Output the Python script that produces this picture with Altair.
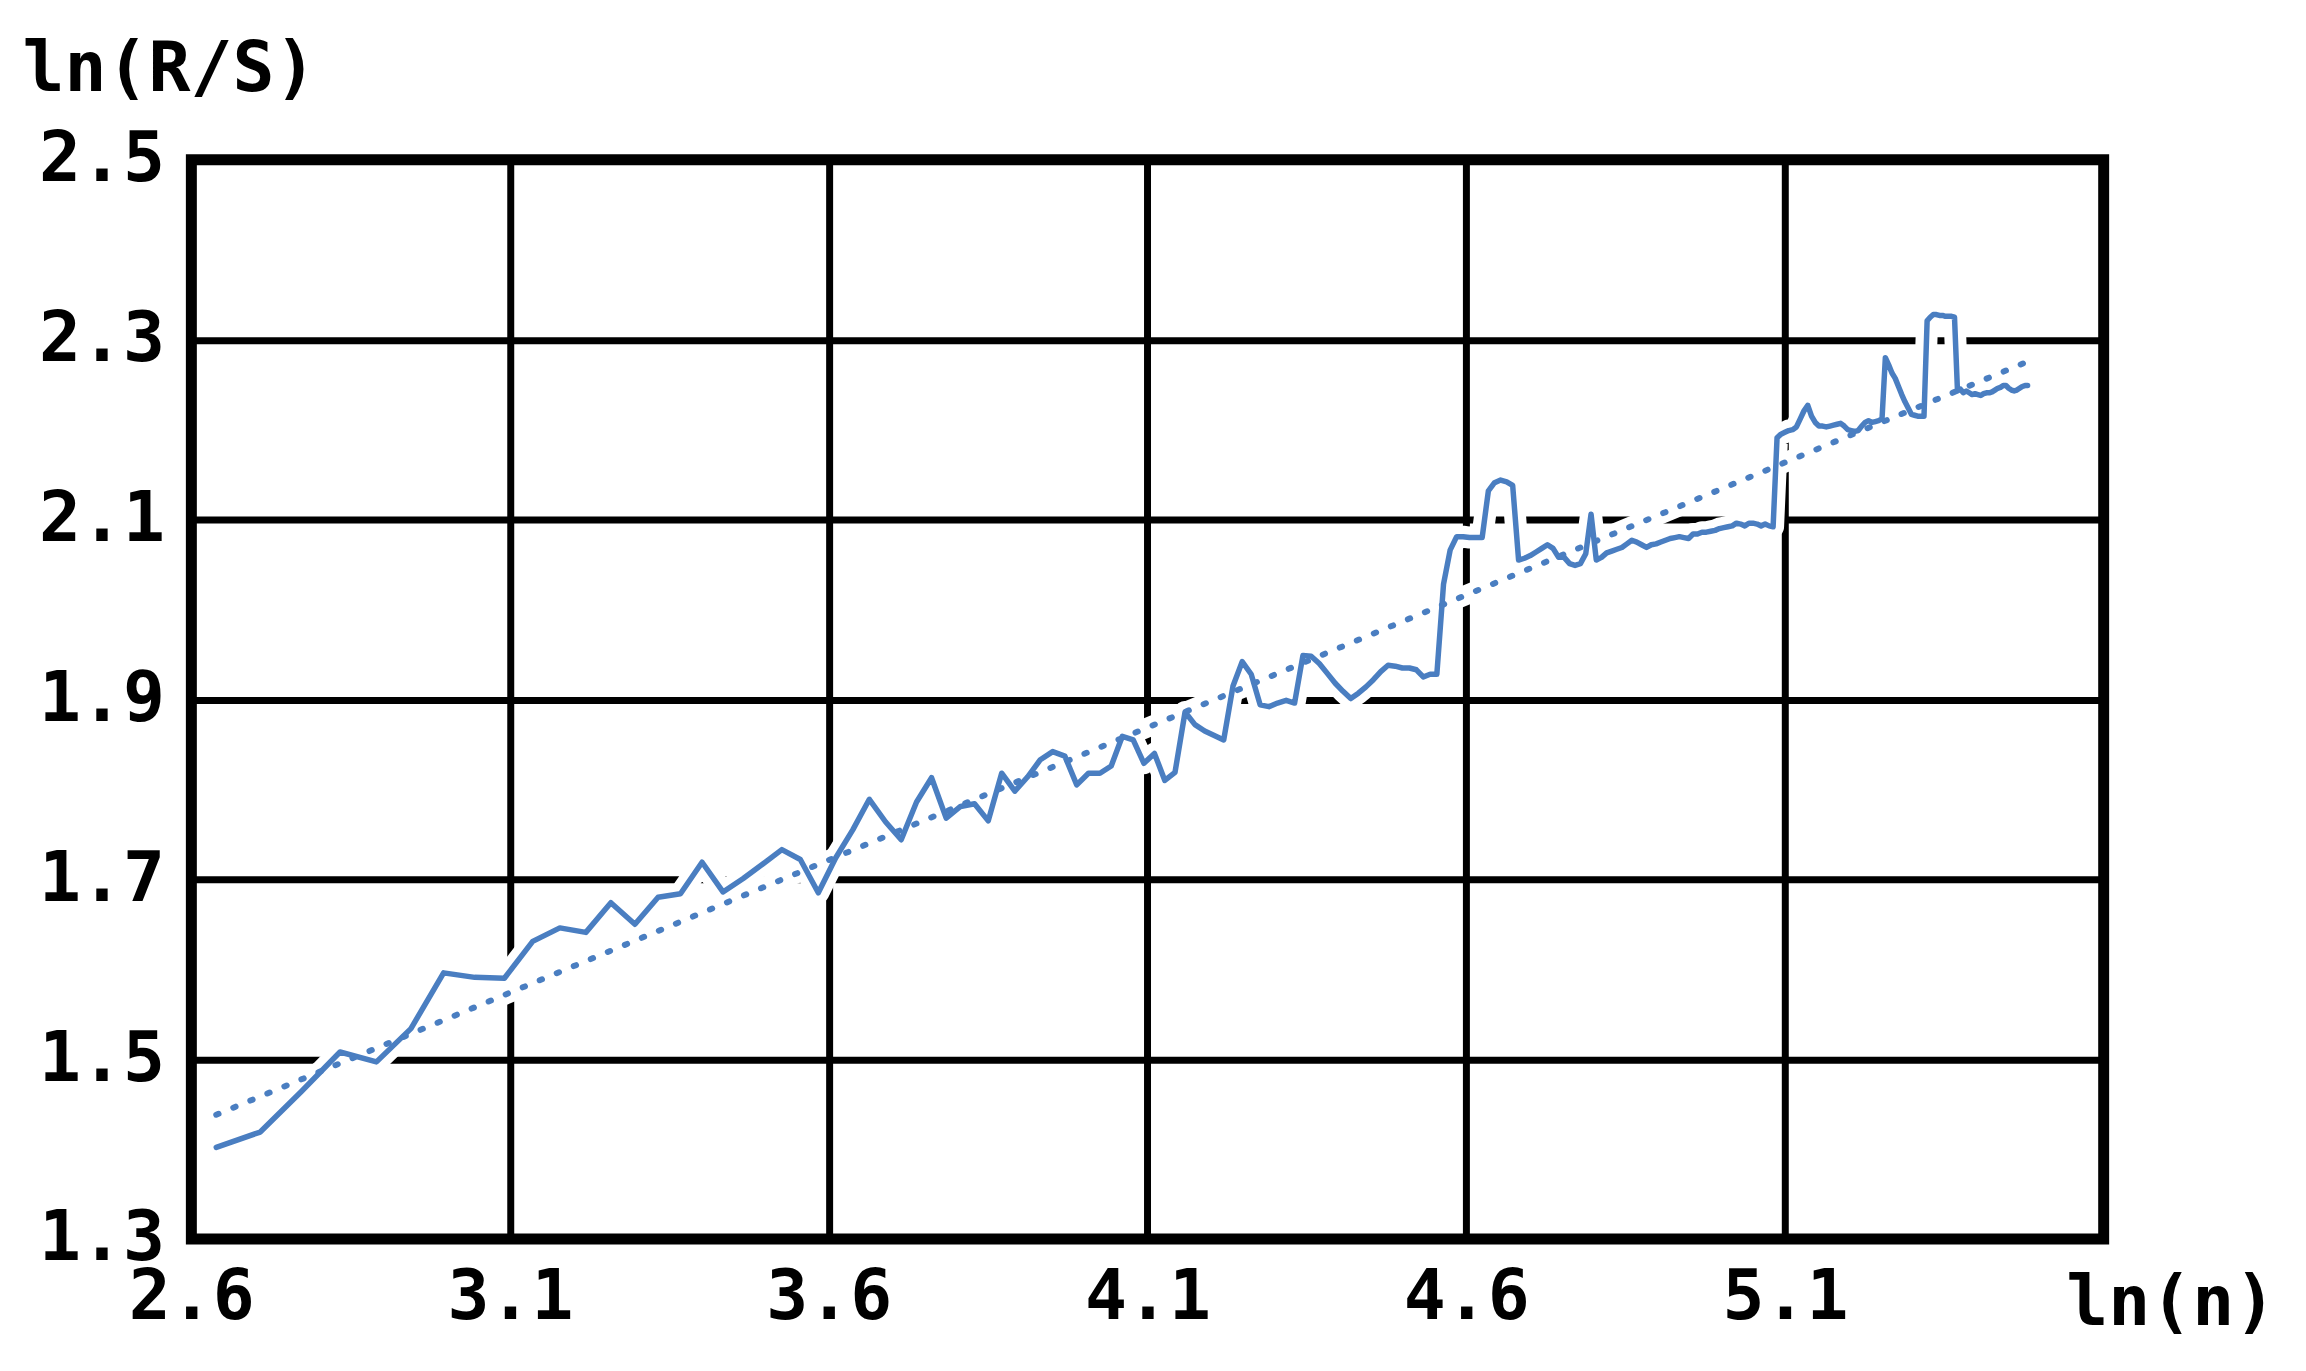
import altair as alt
import numpy as np
import pandas as pd

# window sizes n (x axis shows ln(n))
n_values = list(range(14, 241))

# ln(R/S), one per n
rs_values = [
    1.402, 1.419, 1.464, 1.508, 1.497, 1.534, 1.596, 1.591, 1.590, 1.631,
    1.646, 1.641, 1.674, 1.650, 1.680, 1.684, 1.719, 1.686, 1.701, 1.717,
    1.733, 1.722, 1.685, 1.724, 1.755, 1.789, 1.764, 1.744, 1.786, 1.813,
    1.768, 1.781, 1.784, 1.765, 1.818, 1.798, 1.814, 1.833, 1.842, 1.837,
    1.805, 1.818, 1.818, 1.826, 1.859, 1.855, 1.829, 1.840, 1.810, 1.819,
    1.886, 1.872, 1.865, 1.860, 1.855, 1.915, 1.942, 1.928, 1.894, 1.892,
    1.896, 1.899, 1.896, 1.949, 1.948, 1.940, 1.929, 1.918, 1.909, 1.901,
    1.907, 1.914, 1.922, 1.931, 1.938, 1.937, 1.935, 1.935, 1.933, 1.925,
    1.928, 1.928, 2.028, 2.066, 2.081, 2.081, 2.080, 2.080, 2.080, 2.132,
    2.141, 2.144, 2.142, 2.138, 2.055, 2.057, 2.060, 2.064, 2.068, 2.072,
    2.068, 2.058, 2.058, 2.051, 2.049, 2.051, 2.062, 2.106, 2.055, 2.058,
    2.063, 2.065, 2.067, 2.069, 2.073, 2.077, 2.075, 2.072, 2.069, 2.072,
    2.073, 2.075, 2.077, 2.079, 2.080, 2.081, 2.080, 2.079, 2.084, 2.084,
    2.086, 2.086, 2.087, 2.088, 2.090, 2.091, 2.092, 2.093, 2.096, 2.095,
    2.093, 2.096, 2.096, 2.095, 2.093, 2.095, 2.093, 2.092, 2.191, 2.195,
    2.197, 2.199, 2.200, 2.203, 2.212, 2.221, 2.227, 2.215, 2.208, 2.204,
    2.204, 2.203, 2.204, 2.205, 2.206, 2.207, 2.204, 2.200, 2.199, 2.198,
    2.199, 2.204, 2.208, 2.210, 2.208, 2.209, 2.210, 2.212, 2.280, 2.272,
    2.263, 2.257, 2.248, 2.239, 2.231, 2.224, 2.217, 2.216, 2.215, 2.215,
    2.215, 2.321, 2.325, 2.328, 2.328, 2.327, 2.327, 2.326, 2.326, 2.326,
    2.325, 2.243, 2.245, 2.241, 2.243, 2.241, 2.239, 2.240, 2.239, 2.238,
    2.240, 2.241, 2.241, 2.242, 2.244, 2.246, 2.247, 2.249, 2.249, 2.246,
    2.244, 2.243, 2.244, 2.246, 2.248, 2.249, 2.249,
]

x_ticks = [2.6, 3.1, 3.6, 4.1, 4.6, 5.1, 5.6]
y_ticks = [1.3, 1.5, 1.7, 1.9, 2.1, 2.3, 2.5]

assert len(n_values) == len(rs_values)
df = pd.DataFrame({"x": np.log(np.array(n_values, dtype=float)), "y": rs_values})

FONT = "DejaVu Sans Mono"
FS = 70
BLUE = "#4A7EC1"

x_enc = alt.X(
    "x:Q",
    scale=alt.Scale(domain=[2.6, 5.6], nice=False, zero=False),
    axis=alt.Axis(
        values=x_ticks,
        labelExpr="datum.value > 5.5 ? '' : format(datum.value, '.1f')",
        grid=True, gridColor="black", gridWidth=7, gridOpacity=1,
        domain=False, ticks=False,
        labelPadding=80, labelBaseline="alphabetic", labelFlush=False,
        labelOverlap=False, labelBound=False,
        labelFont=FONT, labelFontSize=FS, labelFontWeight="bold", labelColor="black",
        title="ln(n)", titleX=1881, titleY=86, titleAlign="left",
        titleBaseline="alphabetic", titleAngle=0,
        titleFont=FONT, titleFontSize=FS, titleFontWeight="bold", titleColor="black",
    ),
)
y_enc = alt.Y(
    "y:Q",
    scale=alt.Scale(domain=[1.3, 2.5], nice=False, zero=False),
    axis=alt.Axis(
        values=y_ticks, format=".1f",
        grid=True, gridColor="black", gridWidth=7, gridOpacity=1,
        domain=False, ticks=False,
        labelPadding=27, labelFlush=False, labelOverlap=False, labelBound=False,
        labelFont=FONT, labelFontSize=FS, labelFontWeight="bold", labelColor="black",
        title="ln(R/S)", titleX=-170, titleY=-70, titleAlign="left",
        titleBaseline="alphabetic", titleAngle=0,
        titleFont=FONT, titleFontSize=FS, titleFontWeight="bold", titleColor="black",
    ),
)

base = alt.Chart(df)

trend_halo = base.transform_regression("x", "y").mark_line(
    color="white", strokeWidth=20, strokeCap="round"
).encode(x=x_enc, y=y_enc)

line_halo = base.mark_line(
    color="white", strokeWidth=22, strokeCap="round", strokeJoin="round"
).encode(x=x_enc, y=y_enc)

line = base.mark_line(
    color=BLUE, strokeWidth=5.5, strokeJoin="round", strokeCap="round"
).encode(x=x_enc, y=y_enc)

trend = base.transform_regression("x", "y").mark_line(
    color=BLUE, strokeWidth=6, strokeDash=[2.5, 16], strokeCap="round"
).encode(x=x_enc, y=y_enc)

chart = (
    alt.layer(trend_halo, line_halo, line, trend)
    .properties(
        width=1919, height=1083,
        autosize=alt.AutoSizeParams(type="none"),
        padding={"left": 184, "top": 150, "right": 195, "bottom": 122},
        background="white",
    )
    .configure_view(stroke="black", strokeWidth=11)
)

chart.save("out.html", embed_options={"renderer": "svg", "actions": False})
